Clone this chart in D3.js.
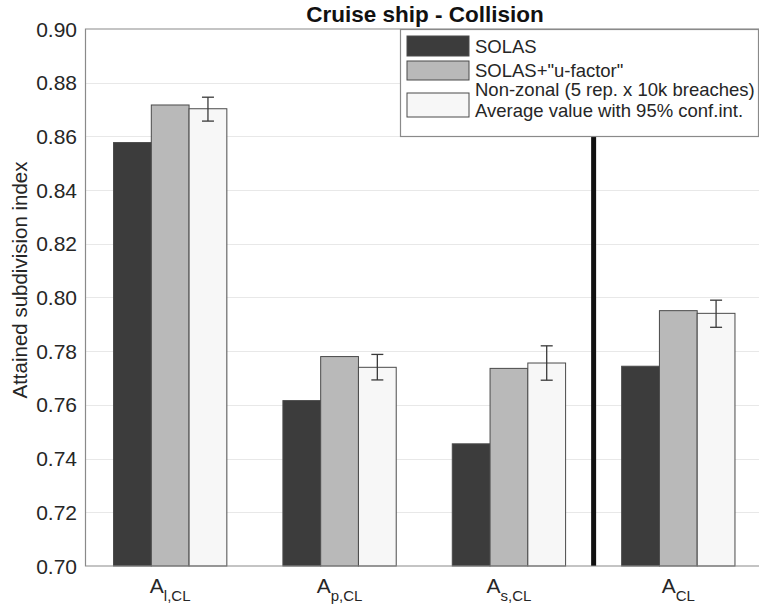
<!DOCTYPE html>
<html>
<head>
<meta charset="utf-8">
<script src="https://cdn.jsdelivr.net/npm/d3@7"></script>
<style>
  body { margin: 0; background: #fff; }
  text { font-family: "Liberation Sans", Arial, sans-serif; }
</style>
</head>
<body>
<svg id="chart"></svg>
<script>
// categories (x positions 1..4) with subscripts for the tick labels
const categories = [1, 2, 3, 4];
const labelSubs = ["l,CL", "p,CL", "s,CL", "CL"];

// series values
const solas = [0.8577, 0.7616, 0.7455, 0.7744];
const solasU = [0.8717, 0.7780, 0.7736, 0.7951];
const nonZonal = [0.8703, 0.7740, 0.7756, 0.7941];
const ciLow = [0.8657, 0.7693, 0.7692, 0.7889];
const ciHigh = [0.8746, 0.7788, 0.7820, 0.7990];

const yTicks = [0.70, 0.72, 0.74, 0.76, 0.78, 0.80, 0.82, 0.84, 0.86, 0.88, 0.90];
const seriesNames = ["SOLAS", 'SOLAS+"u-factor"', ["Non-zonal (5 rep. x 10k breaches)", "Average value with 95% conf.int."]];
const seriesColors = ["#3c3c3c", "#b9b9b9", "#f7f7f7"];

const W = 759, H = 606;
const margin = {top: 29, left: 84, bottom: 566};

const svg = d3.select("#chart")
    .attr("width", W)
    .attr("height", H);

const x = d3.scaleLinear()
    .domain([0.5, 4.5])
    .range([85.5, 763]);

const y = d3.scaleLinear()
    .domain([0.70, 0.90])
    .range([margin.bottom, margin.top]);

const barW = 0.223; // in x units
const offsets = [-barW, 0, barW];

// grid lines
svg.append("g")
    .selectAll("line")
    .data(yTicks.slice(1, -1))
    .join("line")
    .attr("x1", x(0.5))
    .attr("x2", W)
    .attr("y1", d => Math.round(y(d)) + 0.5)
    .attr("y2", d => Math.round(y(d)) + 0.5)
    .attr("stroke", "#e8e8e8")
    .attr("stroke-width", 1.2);

// bars
const series = [solas, solasU, nonZonal];
series.forEach((vals, si) => {
    svg.append("g")
        .selectAll("rect")
        .data(categories)
        .join("rect")
        .attr("x", (c) => x(c + offsets[si] - barW / 2))
        .attr("width", x(barW) - x(0))
        .attr("y", (c, i) => y(vals[i]))
        .attr("height", (c, i) => y(0.70) - y(vals[i]))
        .attr("fill", seriesColors[si])
        .attr("stroke", "#4a4a4a")
        .attr("stroke-width", 1);
});

// error bars on the non-zonal series
const err = svg.append("g")
    .attr("stroke", "#3a3a3a")
    .attr("stroke-width", 1.3);

categories.forEach((c, i) => {
    const cx = x(c + offsets[2]);
    err.append("line")
        .attr("x1", cx).attr("x2", cx)
        .attr("y1", y(ciLow[i])).attr("y2", y(ciHigh[i]));
    [ciLow[i], ciHigh[i]].forEach(v => {
        err.append("line")
            .attr("x1", cx - 6).attr("x2", cx + 6)
            .attr("y1", y(v)).attr("y2", y(v));
    });
});

// thick separator between the partial indices and the total
svg.append("line")
    .attr("x1", x(3.5)).attr("x2", x(3.5))
    .attr("y1", y(0.90)).attr("y2", y(0.70))
    .attr("stroke", "#111")
    .attr("stroke-width", 5);

// axes box (left, bottom, top)
svg.append("path")
    .attr("d", `M${W},${y(0.90)}H${x(0.5)}V${y(0.70)}H${W}`)
    .attr("fill", "none")
    .attr("stroke", "#8a8a8a")
    .attr("stroke-width", 1.2);

// y tick labels
svg.append("g")
    .selectAll("text")
    .data(yTicks)
    .join("text")
    .attr("x", 77)
    .attr("y", d => y(d))
    .attr("dy", "0.36em")
    .attr("text-anchor", "end")
    .attr("font-size", 21)
    .attr("fill", "#262626")
    .text(d => d.toFixed(2));

// x tick labels with subscripts
const xl = svg.append("g")
    .selectAll("text")
    .data(categories)
    .join("text")
    .attr("x", d => x(d))
    .attr("y", 593)
    .attr("text-anchor", "middle")
    .attr("font-size", 21)
    .attr("fill", "#262626");
xl.append("tspan").text("A");
xl.append("tspan")
    .attr("dy", 8)
    .attr("font-size", 15)
    .text((d, i) => labelSubs[i]);

// y axis title
svg.append("text")
    .attr("transform", "translate(27,280) rotate(-90)")
    .attr("text-anchor", "middle")
    .attr("font-size", 20.5)
    .attr("fill", "#262626")
    .text("Attained subdivision index");

// chart title
svg.append("text")
    .attr("x", 425)
    .attr("y", 22)
    .attr("text-anchor", "middle")
    .attr("font-size", 22.5)
    .attr("font-weight", "bold")
    .attr("fill", "#111")
    .text("Cruise ship - Collision");

// legend
const lg = svg.append("g");
lg.append("rect")
    .attr("x", 400.5).attr("y", 29.5)
    .attr("width", 358).attr("height", 107)
    .attr("fill", "#fff")
    .attr("stroke", "#8a8a8a")
    .attr("stroke-width", 1.2);

const swatchY = [36, 61, 93];
const swatchH = [20, 19, 24];
seriesColors.forEach((col, i) => {
    lg.append("rect")
        .attr("x", 407).attr("y", swatchY[i])
        .attr("width", 62).attr("height", swatchH[i])
        .attr("fill", col)
        .attr("stroke", "#4a4a4a")
        .attr("stroke-width", 1);
});

const legendLines = [[seriesNames[0], 52.5], [seriesNames[1], 76.5], [seriesNames[2][0], 95.5], [seriesNames[2][1], 116.5]];
lg.selectAll("text.leg")
    .data(legendLines)
    .join("text")
    .attr("class", "leg")
    .attr("x", 475)
    .attr("y", d => d[1])
    .attr("font-size", 18.5)
    .attr("fill", "#262626")
    .text(d => d[0]);
</script>
</body>
</html>
